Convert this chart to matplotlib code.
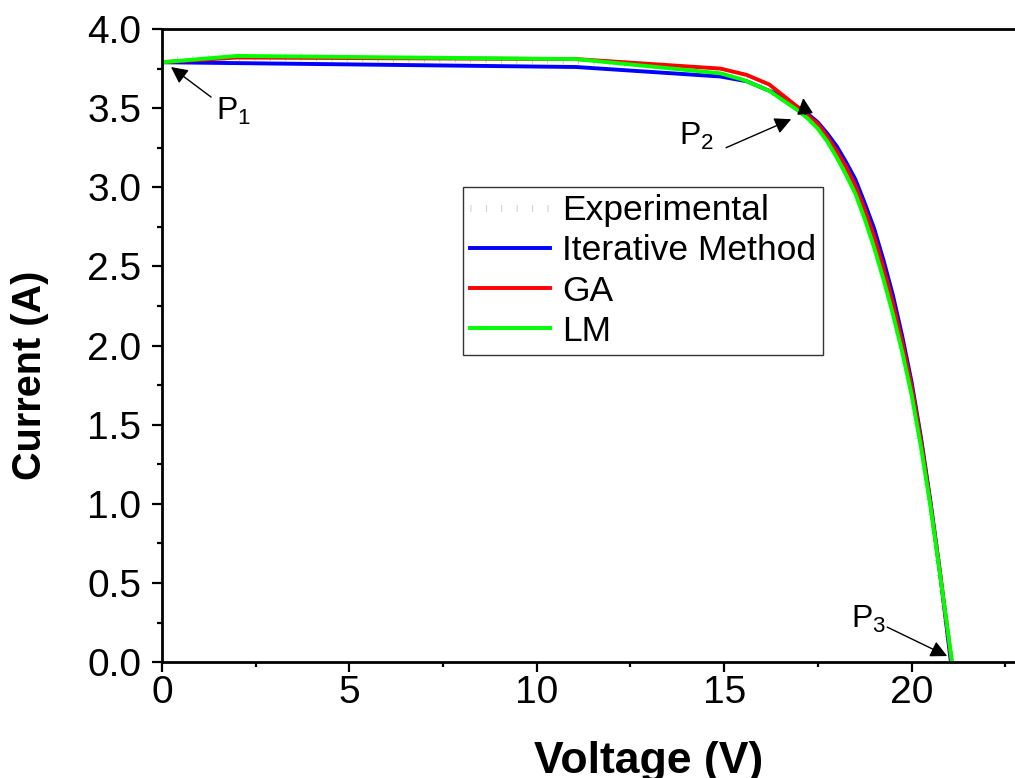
import matplotlib
matplotlib.use("Agg")
import matplotlib.pyplot as plt
from matplotlib.ticker import MultipleLocator

plt.rcParams['font.family'] = ['Liberation Sans', 'DejaVu Sans']
plt.rcParams['mathtext.fontset'] = 'custom'
plt.rcParams['mathtext.rm'] = 'Liberation Sans'
plt.rcParams['mathtext.default'] = 'regular'

# datos (V, A)
v_exp = [0, 1, 2, 4, 6, 8, 10, 11, 12, 13, 14, 14.9, 15.5, 16, 16.5, 17, 17.5,
         18, 18.5, 19, 19.5, 20, 20.5, 21.06]
i_exp = [3.80, 3.81, 3.82, 3.82, 3.81, 3.81, 3.80, 3.80, 3.79, 3.77, 3.75, 3.73,
         3.69, 3.64, 3.57, 3.49, 3.38, 3.21, 2.98, 2.64, 2.22, 1.70, 1.00, 0.0]

v_it = [0, 11.05, 14.9, 15.6, 16.3, 17.0, 17.25, 17.5, 17.75, 18.0, 18.25, 18.5,
        18.75, 19.0, 19.25, 19.5, 19.75, 20.0, 20.25, 20.5, 20.75, 21.05]
i_it = [3.79, 3.76, 3.70, 3.67, 3.60, 3.50, 3.46, 3.41, 3.34, 3.26, 3.16, 3.05,
        2.90, 2.74, 2.54, 2.32, 2.06, 1.77, 1.42, 1.02, 0.58, 0.0]

v_ga = [0, 2.0, 11.05, 14.9, 15.6, 16.2, 17.0, 17.25, 17.5, 17.75, 18.0, 18.25,
        18.5, 18.75, 19.0, 19.25, 19.5, 19.75, 20.0, 20.25, 20.5, 20.75, 21.07]
i_ga = [3.79, 3.82, 3.81, 3.75, 3.71, 3.65, 3.50, 3.45, 3.40, 3.32, 3.23, 3.13,
        3.01, 2.86, 2.69, 2.49, 2.27, 2.02, 1.74, 1.40, 1.01, 0.58, 0.0]

v_lm = [0, 2.0, 11.05, 14.9, 15.5, 16.2, 17.0, 17.25, 17.5, 17.75, 18.0, 18.25,
        18.5, 18.75, 19.0, 19.25, 19.5, 19.75, 20.0, 20.25, 20.5, 20.75, 21.08]
i_lm = [3.79, 3.83, 3.81, 3.72, 3.68, 3.61, 3.48, 3.43, 3.37, 3.29, 3.19, 3.08,
        2.96, 2.80, 2.62, 2.42, 2.20, 1.96, 1.69, 1.36, 0.99, 0.57, 0.0]

fig = plt.figure(figsize=(10.15, 7.78), dpi=100)
ax = fig.add_axes([0.1596, 0.149, 0.8404, 0.8137])

ax.plot(v_exp, i_exp, color='#c4c4c4', linewidth=5, linestyle=(0, (0.12, 2.1)),
        dash_capstyle='butt', label='Experimental')
ax.plot(v_it, i_it, color='#0000ff', linewidth=2.8, label='Iterative Method')
ax.plot(v_ga, i_ga, color='#ff0000', linewidth=2.8, label='GA')
ax.plot(v_lm, i_lm, color='#00ff00', linewidth=2.8, label='LM')

ax.set_xlim(0, 22.76)
ax.set_ylim(0, 4.0)
ax.xaxis.set_major_locator(MultipleLocator(5))
ax.xaxis.set_minor_locator(MultipleLocator(2.5))
ax.yaxis.set_major_locator(MultipleLocator(0.5))
ax.yaxis.set_minor_locator(MultipleLocator(0.25))
ax.yaxis.set_major_formatter(plt.FormatStrFormatter('%.1f'))

ax.spines['right'].set_visible(False)
for s in ['left', 'bottom', 'top']:
    ax.spines[s].set_linewidth(2)
ax.tick_params(which='major', direction='out', length=7, width=1.6, labelsize=28)
ax.tick_params(which='minor', direction='out', length=3.5, width=1.6)
ax.tick_params(axis='x', which='major', pad=2)
ax.tick_params(axis='y', which='major', pad=8)
ax.tick_params(top=False, right=False, which='both')

ax.set_xlabel('Voltage (V)', fontsize=32, fontweight='bold', va='top')
ax.xaxis.set_label_coords(0.570, -0.125)
ax.set_ylabel('Current (A)', fontsize=28.5, fontweight='bold')
ax.yaxis.set_label_coords(-0.133, 0.453)

leg = ax.legend(loc='upper left', bbox_to_anchor=(0.353, 0.750), borderaxespad=0,
                fontsize=25.5, frameon=True, fancybox=False, handlelength=2.25,
                handletextpad=0.35, labelspacing=0.2, borderpad=0.2)
leg.get_frame().set_edgecolor('black')
leg.get_frame().set_linewidth(1.0)

# anotaciones P1, P2, P3
arr = dict(arrowstyle='-|>', color='black', lw=1.0, mutation_scale=25,
           shrinkA=0, shrinkB=0)
ax.annotate('', xy=(0.24, 3.76), xytext=(1.31, 3.57), arrowprops=arr)
ax.text(1.44, 3.425, 'P$_1$', fontsize=23, va='baseline')
ax.annotate('', xy=(16.79, 3.43), xytext=(15.05, 3.25), arrowprops=arr)
ax.annotate('', xy=(17.11, 3.564), xytext=(17.16, 3.46), arrowprops=arr)
ax.text(13.80, 3.267, 'P$_2$', fontsize=23, va='baseline')
ax.annotate('', xy=(20.95, 0.038), xytext=(19.35, 0.221), arrowprops=arr)
ax.text(18.39, 0.215, 'P$_3$', fontsize=23, va='baseline')

fig.savefig('out.png', dpi=100)
